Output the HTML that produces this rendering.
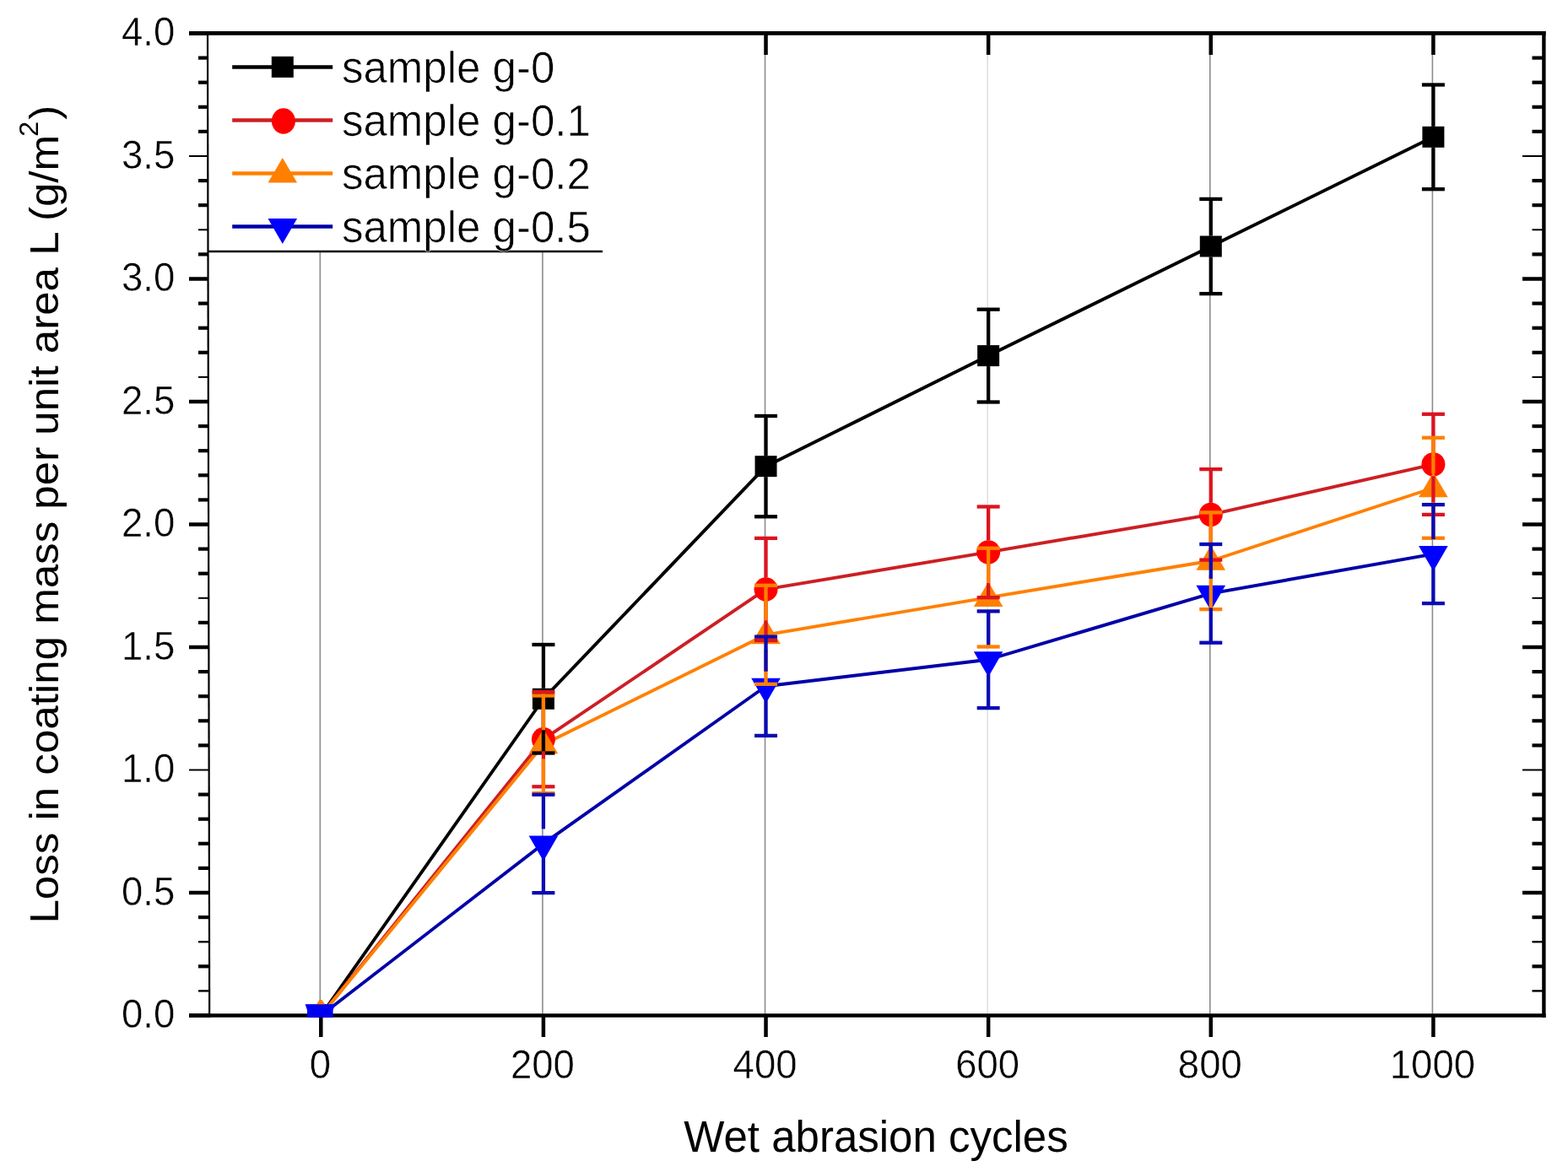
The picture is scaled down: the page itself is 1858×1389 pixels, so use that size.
<!DOCTYPE html><html><head><meta charset="utf-8"><title>Wet abrasion chart</title>
<style>html,body{margin:0;padding:0;background:#fff;overflow:hidden;}svg{display:block;}text{font-family:"Liberation Sans",Arial,sans-serif;fill:#000;}text.er{fill:none;stroke:#fff;stroke-width:0.45px;}text.er2{fill:none;stroke:#fff;stroke-width:0.6px;}</style></head><body>
<svg width="1858" height="1389" viewBox="0 0 1858 1389">
<rect width="1858" height="1389" fill="#fff"/>
<defs><clipPath id="pc"><rect x="247" y="36" width="1585" height="1170"/></clipPath></defs>
<line x1="379.3" y1="42" x2="379.3" y2="1202" stroke="#8c8c8c" stroke-width="1.6"/>
<line x1="642.92" y1="42" x2="642.92" y2="1202" stroke="#8c8c8c" stroke-width="1.6"/>
<line x1="906.54" y1="42" x2="906.54" y2="1202" stroke="#8c8c8c" stroke-width="1.6"/>
<line x1="1170.16" y1="42" x2="1170.16" y2="1202" stroke="#e0e0e0" stroke-width="1.6"/>
<line x1="1433.78" y1="42" x2="1433.78" y2="1202" stroke="#8c8c8c" stroke-width="1.6"/>
<line x1="1697.4" y1="42" x2="1697.4" y2="1202" stroke="#8c8c8c" stroke-width="1.6"/>
<polyline points="380.3,1203.5 643.92,828.25 907.54,552.65 1171.16,421.6 1434.78,292 1698.4,162.35" fill="none" stroke="#000000" stroke-width="3.9" stroke-linejoin="round" clip-path="url(#pc)"/>
<polyline points="380.3,1203.5 643.92,876.2 907.54,698.45 1171.16,654.35 1434.78,609.85 1698.4,550.35" fill="none" stroke="#cc1f24" stroke-width="3.9" stroke-linejoin="round" clip-path="url(#pc)"/>
<polyline points="380.3,1203.5 643.92,882.3 907.54,752.3 1171.16,708.1 1434.78,664.75 1698.4,578.25" fill="none" stroke="#ff8000" stroke-width="3.9" stroke-linejoin="round" clip-path="url(#pc)"/>
<polyline points="380.3,1203.5 643.92,999.95 907.54,813.25 1171.16,781.75 1434.78,703.35 1698.4,656.6" fill="none" stroke="#0000a8" stroke-width="3.9" stroke-linejoin="round" clip-path="url(#pc)"/>
<g clip-path="url(#pc)">
<rect x="367.3" y="1191" width="26" height="25" fill="#000000"/>
<rect x="630.92" y="815.75" width="26" height="25" fill="#000000"/>
<rect x="894.54" y="540.15" width="26" height="25" fill="#000000"/>
<rect x="1158.16" y="409.1" width="26" height="25" fill="#000000"/>
<rect x="1421.78" y="279.5" width="26" height="25" fill="#000000"/>
<rect x="1685.4" y="149.85" width="26" height="25" fill="#000000"/>
<ellipse cx="380.3" cy="1203.5" rx="14" ry="14.2" fill="#ff0000"/>
<ellipse cx="643.92" cy="876.2" rx="14" ry="14.2" fill="#ff0000"/>
<ellipse cx="907.54" cy="698.45" rx="14" ry="14.2" fill="#ff0000"/>
<ellipse cx="1171.16" cy="654.35" rx="14" ry="14.2" fill="#ff0000"/>
<ellipse cx="1434.78" cy="609.85" rx="14" ry="14.2" fill="#ff0000"/>
<ellipse cx="1698.4" cy="550.35" rx="14" ry="14.2" fill="#ff0000"/>
<polygon points="380.3,1185 397.6,1214.5 363,1214.5" fill="#ff8000"/>
<polygon points="643.92,863.8 661.22,893.3 626.62,893.3" fill="#ff8000"/>
<polygon points="907.54,733.8 924.84,763.3 890.24,763.3" fill="#ff8000"/>
<polygon points="1171.16,689.6 1188.46,719.1 1153.86,719.1" fill="#ff8000"/>
<polygon points="1434.78,646.25 1452.08,675.75 1417.48,675.75" fill="#ff8000"/>
<polygon points="1698.4,559.75 1715.7,589.25 1681.1,589.25" fill="#ff8000"/>
<polygon points="363,1190.5 397.6,1190.5 380.3,1220.5" fill="#0000ff"/>
<polygon points="626.62,990.45 661.22,990.45 643.92,1020.45" fill="#0000ff"/>
<polygon points="890.24,803.75 924.84,803.75 907.54,833.75" fill="#0000ff"/>
<polygon points="1153.86,772.25 1188.46,772.25 1171.16,802.25" fill="#0000ff"/>
<polygon points="1417.48,693.85 1452.08,693.85 1434.78,723.85" fill="#0000ff"/>
<polygon points="1681.1,647.1 1715.7,647.1 1698.4,677.1" fill="#0000ff"/>
</g>
<line x1="643.92" y1="764" x2="643.92" y2="815.75" stroke="#000000" stroke-width="4.3"/>
<line x1="643.92" y1="840.75" x2="643.92" y2="892.5" stroke="#000000" stroke-width="4.3"/>
<line x1="630.42" y1="764" x2="657.42" y2="764" stroke="#000000" stroke-width="4.3"/>
<line x1="630.42" y1="892.5" x2="657.42" y2="892.5" stroke="#000000" stroke-width="4.3"/>
<line x1="907.54" y1="493" x2="907.54" y2="540.15" stroke="#000000" stroke-width="4.3"/>
<line x1="907.54" y1="565.15" x2="907.54" y2="612.3" stroke="#000000" stroke-width="4.3"/>
<line x1="894.04" y1="493" x2="921.04" y2="493" stroke="#000000" stroke-width="4.3"/>
<line x1="894.04" y1="612.3" x2="921.04" y2="612.3" stroke="#000000" stroke-width="4.3"/>
<line x1="1171.16" y1="366.7" x2="1171.16" y2="409.1" stroke="#000000" stroke-width="4.3"/>
<line x1="1171.16" y1="434.1" x2="1171.16" y2="476.5" stroke="#000000" stroke-width="4.3"/>
<line x1="1157.66" y1="366.7" x2="1184.66" y2="366.7" stroke="#000000" stroke-width="4.3"/>
<line x1="1157.66" y1="476.5" x2="1184.66" y2="476.5" stroke="#000000" stroke-width="4.3"/>
<line x1="1434.78" y1="235.9" x2="1434.78" y2="279.5" stroke="#000000" stroke-width="4.3"/>
<line x1="1434.78" y1="304.5" x2="1434.78" y2="348.1" stroke="#000000" stroke-width="4.3"/>
<line x1="1421.28" y1="235.9" x2="1448.28" y2="235.9" stroke="#000000" stroke-width="4.3"/>
<line x1="1421.28" y1="348.1" x2="1448.28" y2="348.1" stroke="#000000" stroke-width="4.3"/>
<line x1="1698.4" y1="100.5" x2="1698.4" y2="149.85" stroke="#000000" stroke-width="4.3"/>
<line x1="1698.4" y1="174.85" x2="1698.4" y2="224.2" stroke="#000000" stroke-width="4.3"/>
<line x1="1684.9" y1="100.5" x2="1711.9" y2="100.5" stroke="#000000" stroke-width="4.3"/>
<line x1="1684.9" y1="224.2" x2="1711.9" y2="224.2" stroke="#000000" stroke-width="4.3"/>
<line x1="643.92" y1="820.1" x2="643.92" y2="862.2" stroke="#dc1420" stroke-width="4.3"/>
<line x1="643.92" y1="890.2" x2="643.92" y2="932.3" stroke="#dc1420" stroke-width="4.3"/>
<line x1="630.42" y1="820.1" x2="657.42" y2="820.1" stroke="#dc1420" stroke-width="4.3"/>
<line x1="630.42" y1="932.3" x2="657.42" y2="932.3" stroke="#dc1420" stroke-width="4.3"/>
<line x1="907.54" y1="637.9" x2="907.54" y2="684.45" stroke="#dc1420" stroke-width="4.3"/>
<line x1="907.54" y1="712.45" x2="907.54" y2="759" stroke="#dc1420" stroke-width="4.3"/>
<line x1="894.04" y1="637.9" x2="921.04" y2="637.9" stroke="#dc1420" stroke-width="4.3"/>
<line x1="894.04" y1="759" x2="921.04" y2="759" stroke="#dc1420" stroke-width="4.3"/>
<line x1="1171.16" y1="600.5" x2="1171.16" y2="640.35" stroke="#dc1420" stroke-width="4.3"/>
<line x1="1171.16" y1="668.35" x2="1171.16" y2="708.2" stroke="#dc1420" stroke-width="4.3"/>
<line x1="1157.66" y1="600.5" x2="1184.66" y2="600.5" stroke="#dc1420" stroke-width="4.3"/>
<line x1="1157.66" y1="708.2" x2="1184.66" y2="708.2" stroke="#dc1420" stroke-width="4.3"/>
<line x1="1434.78" y1="556.1" x2="1434.78" y2="595.85" stroke="#dc1420" stroke-width="4.3"/>
<line x1="1434.78" y1="623.85" x2="1434.78" y2="663.6" stroke="#dc1420" stroke-width="4.3"/>
<line x1="1421.28" y1="556.1" x2="1448.28" y2="556.1" stroke="#dc1420" stroke-width="4.3"/>
<line x1="1421.28" y1="663.6" x2="1448.28" y2="663.6" stroke="#dc1420" stroke-width="4.3"/>
<line x1="1698.4" y1="490.8" x2="1698.4" y2="536.35" stroke="#dc1420" stroke-width="4.3"/>
<line x1="1698.4" y1="564.35" x2="1698.4" y2="609.9" stroke="#dc1420" stroke-width="4.3"/>
<line x1="1684.9" y1="490.8" x2="1711.9" y2="490.8" stroke="#dc1420" stroke-width="4.3"/>
<line x1="1684.9" y1="609.9" x2="1711.9" y2="609.9" stroke="#dc1420" stroke-width="4.3"/>
<line x1="643.92" y1="824.5" x2="643.92" y2="865.3" stroke="#ff8000" stroke-width="4.3"/>
<line x1="643.92" y1="899.3" x2="643.92" y2="940.1" stroke="#ff8000" stroke-width="4.3"/>
<line x1="630.42" y1="824.5" x2="657.42" y2="824.5" stroke="#ff8000" stroke-width="4.3"/>
<line x1="630.42" y1="940.1" x2="657.42" y2="940.1" stroke="#ff8000" stroke-width="4.3"/>
<line x1="907.54" y1="693.8" x2="907.54" y2="735.3" stroke="#ff8000" stroke-width="4.3"/>
<line x1="907.54" y1="769.3" x2="907.54" y2="810.8" stroke="#ff8000" stroke-width="4.3"/>
<line x1="894.04" y1="693.8" x2="921.04" y2="693.8" stroke="#ff8000" stroke-width="4.3"/>
<line x1="894.04" y1="810.8" x2="921.04" y2="810.8" stroke="#ff8000" stroke-width="4.3"/>
<line x1="1171.16" y1="649.7" x2="1171.16" y2="691.1" stroke="#ff8000" stroke-width="4.3"/>
<line x1="1171.16" y1="725.1" x2="1171.16" y2="766.5" stroke="#ff8000" stroke-width="4.3"/>
<line x1="1157.66" y1="649.7" x2="1184.66" y2="649.7" stroke="#ff8000" stroke-width="4.3"/>
<line x1="1157.66" y1="766.5" x2="1184.66" y2="766.5" stroke="#ff8000" stroke-width="4.3"/>
<line x1="1434.78" y1="607.4" x2="1434.78" y2="647.75" stroke="#ff8000" stroke-width="4.3"/>
<line x1="1434.78" y1="681.75" x2="1434.78" y2="722.1" stroke="#ff8000" stroke-width="4.3"/>
<line x1="1421.28" y1="607.4" x2="1448.28" y2="607.4" stroke="#ff8000" stroke-width="4.3"/>
<line x1="1421.28" y1="722.1" x2="1448.28" y2="722.1" stroke="#ff8000" stroke-width="4.3"/>
<line x1="1698.4" y1="518.75" x2="1698.4" y2="561.25" stroke="#ff8000" stroke-width="4.3"/>
<line x1="1698.4" y1="595.25" x2="1698.4" y2="637.75" stroke="#ff8000" stroke-width="4.3"/>
<line x1="1684.9" y1="518.75" x2="1711.9" y2="518.75" stroke="#ff8000" stroke-width="4.3"/>
<line x1="1684.9" y1="637.75" x2="1711.9" y2="637.75" stroke="#ff8000" stroke-width="4.3"/>
<line x1="643.92" y1="941.75" x2="643.92" y2="982.45" stroke="#0a0ab4" stroke-width="4.3"/>
<line x1="643.92" y1="1016.95" x2="643.92" y2="1058.15" stroke="#0a0ab4" stroke-width="4.3"/>
<line x1="630.42" y1="941.75" x2="657.42" y2="941.75" stroke="#0a0ab4" stroke-width="4.3"/>
<line x1="630.42" y1="1058.15" x2="657.42" y2="1058.15" stroke="#0a0ab4" stroke-width="4.3"/>
<line x1="907.54" y1="754.6" x2="907.54" y2="795.75" stroke="#0a0ab4" stroke-width="4.3"/>
<line x1="907.54" y1="830.25" x2="907.54" y2="871.9" stroke="#0a0ab4" stroke-width="4.3"/>
<line x1="894.04" y1="754.6" x2="921.04" y2="754.6" stroke="#0a0ab4" stroke-width="4.3"/>
<line x1="894.04" y1="871.9" x2="921.04" y2="871.9" stroke="#0a0ab4" stroke-width="4.3"/>
<line x1="1171.16" y1="724.4" x2="1171.16" y2="764.25" stroke="#0a0ab4" stroke-width="4.3"/>
<line x1="1171.16" y1="798.75" x2="1171.16" y2="839.1" stroke="#0a0ab4" stroke-width="4.3"/>
<line x1="1157.66" y1="724.4" x2="1184.66" y2="724.4" stroke="#0a0ab4" stroke-width="4.3"/>
<line x1="1157.66" y1="839.1" x2="1184.66" y2="839.1" stroke="#0a0ab4" stroke-width="4.3"/>
<line x1="1434.78" y1="645" x2="1434.78" y2="685.85" stroke="#0a0ab4" stroke-width="4.3"/>
<line x1="1434.78" y1="720.35" x2="1434.78" y2="761.7" stroke="#0a0ab4" stroke-width="4.3"/>
<line x1="1421.28" y1="645" x2="1448.28" y2="645" stroke="#0a0ab4" stroke-width="4.3"/>
<line x1="1421.28" y1="761.7" x2="1448.28" y2="761.7" stroke="#0a0ab4" stroke-width="4.3"/>
<line x1="1698.4" y1="598.1" x2="1698.4" y2="639.1" stroke="#0a0ab4" stroke-width="4.3"/>
<line x1="1698.4" y1="673.6" x2="1698.4" y2="715.1" stroke="#0a0ab4" stroke-width="4.3"/>
<line x1="1684.9" y1="598.1" x2="1711.9" y2="598.1" stroke="#0a0ab4" stroke-width="4.3"/>
<line x1="1684.9" y1="715.1" x2="1711.9" y2="715.1" stroke="#0a0ab4" stroke-width="4.3"/>
<rect x="248.5" y="42" width="465" height="255" fill="#fff"/>
<line x1="247" y1="298" x2="714" y2="298" stroke="#000" stroke-width="2.4"/>
<line x1="275.2" y1="79.4" x2="394.2" y2="79.4" stroke="#000000" stroke-width="4.5"/>
<rect x="321.8" y="66.9" width="26" height="25" fill="#000000"/>
<text x="405" y="97.6" font-size="51">sample g-0</text>
<text class="er2" x="405" y="97.6" font-size="51">sample g-0</text>
<line x1="275.2" y1="142.5" x2="394.2" y2="142.5" stroke="#cc1f24" stroke-width="4.5"/>
<ellipse cx="335.9" cy="143.5" rx="14" ry="15.3" fill="#ff0000"/>
<text x="405" y="160.7" font-size="51">sample g-0.1</text>
<text class="er2" x="405" y="160.7" font-size="51">sample g-0.1</text>
<line x1="275.2" y1="205.5" x2="394.2" y2="205.5" stroke="#ff8000" stroke-width="4.5"/>
<polygon points="334.8,187 352.1,216.5 317.5,216.5" fill="#ff8000"/>
<text x="405" y="223.7" font-size="51">sample g-0.2</text>
<text class="er2" x="405" y="223.7" font-size="51">sample g-0.2</text>
<line x1="275.2" y1="268.5" x2="394.2" y2="268.5" stroke="#0000a8" stroke-width="4.5"/>
<polygon points="317.5,259 352.1,259 334.8,289" fill="#0000ff"/>
<text x="405" y="286.7" font-size="51">sample g-0.5</text>
<text class="er2" x="405" y="286.7" font-size="51">sample g-0.5</text>
<g stroke="#000" fill="none">
<line x1="224" y1="39.4" x2="1831.6" y2="39.4" stroke-width="4.6"/>
<line x1="224" y1="1203.6" x2="1831.6" y2="1203.6" stroke-width="4.5"/>
<line x1="1829.4" y1="37" x2="1829.4" y2="1206" stroke-width="4.4"/>
<line x1="246" y1="38" x2="248.2" y2="1206" stroke-width="2.2"/>
</g>
<g stroke="#000">
<line x1="224" y1="1203.5" x2="247" y2="1203.5" stroke-width="4.5"/>
<line x1="235" y1="1174.4" x2="247" y2="1174.4" stroke-width="2.4"/>
<line x1="1815.5" y1="1174.4" x2="1828" y2="1174.4" stroke-width="2.4"/>
<line x1="235" y1="1145.3" x2="247" y2="1145.3" stroke-width="4.2"/>
<line x1="1815.5" y1="1145.3" x2="1828" y2="1145.3" stroke-width="4.2"/>
<line x1="235" y1="1116.2" x2="247" y2="1116.2" stroke-width="2.4"/>
<line x1="1815.5" y1="1116.2" x2="1828" y2="1116.2" stroke-width="2.4"/>
<line x1="235" y1="1087.1" x2="247" y2="1087.1" stroke-width="4.2"/>
<line x1="1815.5" y1="1087.1" x2="1828" y2="1087.1" stroke-width="4.2"/>
<line x1="224" y1="1058" x2="247" y2="1058" stroke-width="4.5"/>
<line x1="1804" y1="1058" x2="1828" y2="1058" stroke-width="4.5"/>
<line x1="235" y1="1028.9" x2="247" y2="1028.9" stroke-width="4.2"/>
<line x1="1815.5" y1="1028.9" x2="1828" y2="1028.9" stroke-width="4.2"/>
<line x1="235" y1="999.8" x2="247" y2="999.8" stroke-width="4.2"/>
<line x1="1815.5" y1="999.8" x2="1828" y2="999.8" stroke-width="4.2"/>
<line x1="235" y1="970.7" x2="247" y2="970.7" stroke-width="4.2"/>
<line x1="1815.5" y1="970.7" x2="1828" y2="970.7" stroke-width="4.2"/>
<line x1="235" y1="941.6" x2="247" y2="941.6" stroke-width="4.2"/>
<line x1="1815.5" y1="941.6" x2="1828" y2="941.6" stroke-width="4.2"/>
<line x1="224" y1="912.5" x2="247" y2="912.5" stroke-width="2.0"/>
<line x1="1804" y1="912.5" x2="1828" y2="912.5" stroke-width="2.0"/>
<line x1="235" y1="883.4" x2="247" y2="883.4" stroke-width="4.2"/>
<line x1="1815.5" y1="883.4" x2="1828" y2="883.4" stroke-width="4.2"/>
<line x1="235" y1="854.3" x2="247" y2="854.3" stroke-width="4.2"/>
<line x1="1815.5" y1="854.3" x2="1828" y2="854.3" stroke-width="4.2"/>
<line x1="235" y1="825.2" x2="247" y2="825.2" stroke-width="4.2"/>
<line x1="1815.5" y1="825.2" x2="1828" y2="825.2" stroke-width="4.2"/>
<line x1="235" y1="796.1" x2="247" y2="796.1" stroke-width="4.2"/>
<line x1="1815.5" y1="796.1" x2="1828" y2="796.1" stroke-width="4.2"/>
<line x1="224" y1="767" x2="247" y2="767" stroke-width="4.5"/>
<line x1="1804" y1="767" x2="1828" y2="767" stroke-width="4.5"/>
<line x1="235" y1="737.9" x2="247" y2="737.9" stroke-width="4.2"/>
<line x1="1815.5" y1="737.9" x2="1828" y2="737.9" stroke-width="4.2"/>
<line x1="235" y1="708.8" x2="247" y2="708.8" stroke-width="2.0"/>
<line x1="1815.5" y1="708.8" x2="1828" y2="708.8" stroke-width="2.0"/>
<line x1="235" y1="679.7" x2="247" y2="679.7" stroke-width="4.2"/>
<line x1="1815.5" y1="679.7" x2="1828" y2="679.7" stroke-width="4.2"/>
<line x1="235" y1="650.6" x2="247" y2="650.6" stroke-width="4.2"/>
<line x1="1815.5" y1="650.6" x2="1828" y2="650.6" stroke-width="4.2"/>
<line x1="224" y1="621.5" x2="247" y2="621.5" stroke-width="4.5"/>
<line x1="1804" y1="621.5" x2="1828" y2="621.5" stroke-width="4.5"/>
<line x1="235" y1="592.4" x2="247" y2="592.4" stroke-width="4.2"/>
<line x1="1815.5" y1="592.4" x2="1828" y2="592.4" stroke-width="4.2"/>
<line x1="235" y1="563.3" x2="247" y2="563.3" stroke-width="4.2"/>
<line x1="1815.5" y1="563.3" x2="1828" y2="563.3" stroke-width="4.2"/>
<line x1="235" y1="534.2" x2="247" y2="534.2" stroke-width="4.2"/>
<line x1="1815.5" y1="534.2" x2="1828" y2="534.2" stroke-width="4.2"/>
<line x1="235" y1="505.1" x2="247" y2="505.1" stroke-width="4.2"/>
<line x1="1815.5" y1="505.1" x2="1828" y2="505.1" stroke-width="4.2"/>
<line x1="224" y1="476" x2="247" y2="476" stroke-width="4.5"/>
<line x1="1804" y1="476" x2="1828" y2="476" stroke-width="4.5"/>
<line x1="235" y1="446.9" x2="247" y2="446.9" stroke-width="2.0"/>
<line x1="1815.5" y1="446.9" x2="1828" y2="446.9" stroke-width="2.0"/>
<line x1="235" y1="417.8" x2="247" y2="417.8" stroke-width="4.2"/>
<line x1="1815.5" y1="417.8" x2="1828" y2="417.8" stroke-width="4.2"/>
<line x1="235" y1="388.7" x2="247" y2="388.7" stroke-width="4.2"/>
<line x1="1815.5" y1="388.7" x2="1828" y2="388.7" stroke-width="4.2"/>
<line x1="235" y1="359.6" x2="247" y2="359.6" stroke-width="4.2"/>
<line x1="1815.5" y1="359.6" x2="1828" y2="359.6" stroke-width="4.2"/>
<line x1="224" y1="330.5" x2="247" y2="330.5" stroke-width="4.5"/>
<line x1="1804" y1="330.5" x2="1828" y2="330.5" stroke-width="4.5"/>
<line x1="235" y1="301.4" x2="247" y2="301.4" stroke-width="4.2"/>
<line x1="1815.5" y1="301.4" x2="1828" y2="301.4" stroke-width="4.2"/>
<line x1="235" y1="272.3" x2="247" y2="272.3" stroke-width="2.0"/>
<line x1="1815.5" y1="272.3" x2="1828" y2="272.3" stroke-width="2.0"/>
<line x1="235" y1="243.2" x2="247" y2="243.2" stroke-width="4.2"/>
<line x1="1815.5" y1="243.2" x2="1828" y2="243.2" stroke-width="4.2"/>
<line x1="235" y1="214.1" x2="247" y2="214.1" stroke-width="4.2"/>
<line x1="1815.5" y1="214.1" x2="1828" y2="214.1" stroke-width="4.2"/>
<line x1="224" y1="185" x2="247" y2="185" stroke-width="2.0"/>
<line x1="1804" y1="185" x2="1828" y2="185" stroke-width="2.0"/>
<line x1="235" y1="155.9" x2="247" y2="155.9" stroke-width="4.2"/>
<line x1="1815.5" y1="155.9" x2="1828" y2="155.9" stroke-width="4.2"/>
<line x1="235" y1="126.8" x2="247" y2="126.8" stroke-width="4.2"/>
<line x1="1815.5" y1="126.8" x2="1828" y2="126.8" stroke-width="4.2"/>
<line x1="235" y1="97.7" x2="247" y2="97.7" stroke-width="4.2"/>
<line x1="1815.5" y1="97.7" x2="1828" y2="97.7" stroke-width="4.2"/>
<line x1="235" y1="68.6" x2="247" y2="68.6" stroke-width="4.2"/>
<line x1="1815.5" y1="68.6" x2="1828" y2="68.6" stroke-width="4.2"/>
<line x1="224" y1="39.5" x2="247" y2="39.5" stroke-width="4.5"/>
<line x1="380.3" y1="1205" x2="380.3" y2="1229" stroke-width="4.5"/>
<line x1="643.92" y1="1205" x2="643.92" y2="1229" stroke-width="4.5"/>
<line x1="907.54" y1="1205" x2="907.54" y2="1229" stroke-width="4.5"/>
<line x1="907.54" y1="41" x2="907.54" y2="65" stroke-width="4.5"/>
<line x1="1171.16" y1="1205" x2="1171.16" y2="1229" stroke-width="4.5"/>
<line x1="1171.16" y1="41" x2="1171.16" y2="65" stroke-width="4.5"/>
<line x1="1434.78" y1="1205" x2="1434.78" y2="1229" stroke-width="4.5"/>
<line x1="1434.78" y1="41" x2="1434.78" y2="65" stroke-width="4.5"/>
<line x1="1698.4" y1="1205" x2="1698.4" y2="1229" stroke-width="4.5"/>
<line x1="1698.4" y1="41" x2="1698.4" y2="65" stroke-width="4.5"/>
</g>
<text transform="translate(207.3,1218.3) scale(1,1.06)" font-size="45.5" text-anchor="end">0.0</text>
<text class="er" transform="translate(207.3,1218.3) scale(1,1.06)" font-size="45.5" text-anchor="end">0.0</text>
<text transform="translate(207.3,1072.8) scale(1,1.06)" font-size="45.5" text-anchor="end">0.5</text>
<text class="er" transform="translate(207.3,1072.8) scale(1,1.06)" font-size="45.5" text-anchor="end">0.5</text>
<text transform="translate(207.3,927.3) scale(1,1.06)" font-size="45.5" text-anchor="end">1.0</text>
<text class="er" transform="translate(207.3,927.3) scale(1,1.06)" font-size="45.5" text-anchor="end">1.0</text>
<text transform="translate(207.3,781.8) scale(1,1.06)" font-size="45.5" text-anchor="end">1.5</text>
<text class="er" transform="translate(207.3,781.8) scale(1,1.06)" font-size="45.5" text-anchor="end">1.5</text>
<text transform="translate(207.3,636.3) scale(1,1.06)" font-size="45.5" text-anchor="end">2.0</text>
<text class="er" transform="translate(207.3,636.3) scale(1,1.06)" font-size="45.5" text-anchor="end">2.0</text>
<text transform="translate(207.3,490.8) scale(1,1.06)" font-size="45.5" text-anchor="end">2.5</text>
<text class="er" transform="translate(207.3,490.8) scale(1,1.06)" font-size="45.5" text-anchor="end">2.5</text>
<text transform="translate(207.3,345.3) scale(1,1.06)" font-size="45.5" text-anchor="end">3.0</text>
<text class="er" transform="translate(207.3,345.3) scale(1,1.06)" font-size="45.5" text-anchor="end">3.0</text>
<text transform="translate(207.3,199.8) scale(1,1.06)" font-size="45.5" text-anchor="end">3.5</text>
<text class="er" transform="translate(207.3,199.8) scale(1,1.06)" font-size="45.5" text-anchor="end">3.5</text>
<text transform="translate(207.3,54.3) scale(1,1.06)" font-size="45.5" text-anchor="end">4.0</text>
<text class="er" transform="translate(207.3,54.3) scale(1,1.06)" font-size="45.5" text-anchor="end">4.0</text>
<text transform="translate(379.3,1278.3) scale(1,1.06)" font-size="45.5" text-anchor="middle">0</text>
<text class="er" transform="translate(379.3,1278.3) scale(1,1.06)" font-size="45.5" text-anchor="middle">0</text>
<text transform="translate(642.92,1278.3) scale(1,1.06)" font-size="45.5" text-anchor="middle">200</text>
<text class="er" transform="translate(642.92,1278.3) scale(1,1.06)" font-size="45.5" text-anchor="middle">200</text>
<text transform="translate(906.54,1278.3) scale(1,1.06)" font-size="45.5" text-anchor="middle">400</text>
<text class="er" transform="translate(906.54,1278.3) scale(1,1.06)" font-size="45.5" text-anchor="middle">400</text>
<text transform="translate(1170.16,1278.3) scale(1,1.06)" font-size="45.5" text-anchor="middle">600</text>
<text class="er" transform="translate(1170.16,1278.3) scale(1,1.06)" font-size="45.5" text-anchor="middle">600</text>
<text transform="translate(1433.78,1278.3) scale(1,1.06)" font-size="45.5" text-anchor="middle">800</text>
<text class="er" transform="translate(1433.78,1278.3) scale(1,1.06)" font-size="45.5" text-anchor="middle">800</text>
<text transform="translate(1697.4,1278.3) scale(1,1.06)" font-size="45.5" text-anchor="middle">1000</text>
<text class="er" transform="translate(1697.4,1278.3) scale(1,1.06)" font-size="45.5" text-anchor="middle">1000</text>
<text x="1038" y="1365" font-size="51" text-anchor="middle">Wet abrasion cycles</text>
<text transform="translate(69,1094.6) rotate(-90) scale(1.0575,1)" x="0" y="0" font-size="48.3">Loss in coating mass per unit area L (g/m<tspan font-size="31" dx="-2" dy="-24">2</tspan><tspan dx="2" dy="24">)</tspan></text>
<polygon points="361.6,1190.3 397,1190.3 394.6,1197 394.6,1205.8 364,1205.8 364,1197" fill="#0000f0"/>
<polygon points="375,1190.3 385,1190.3 381.5,1185 378.5,1185" fill="#ff8000"/>
</svg></body></html>
